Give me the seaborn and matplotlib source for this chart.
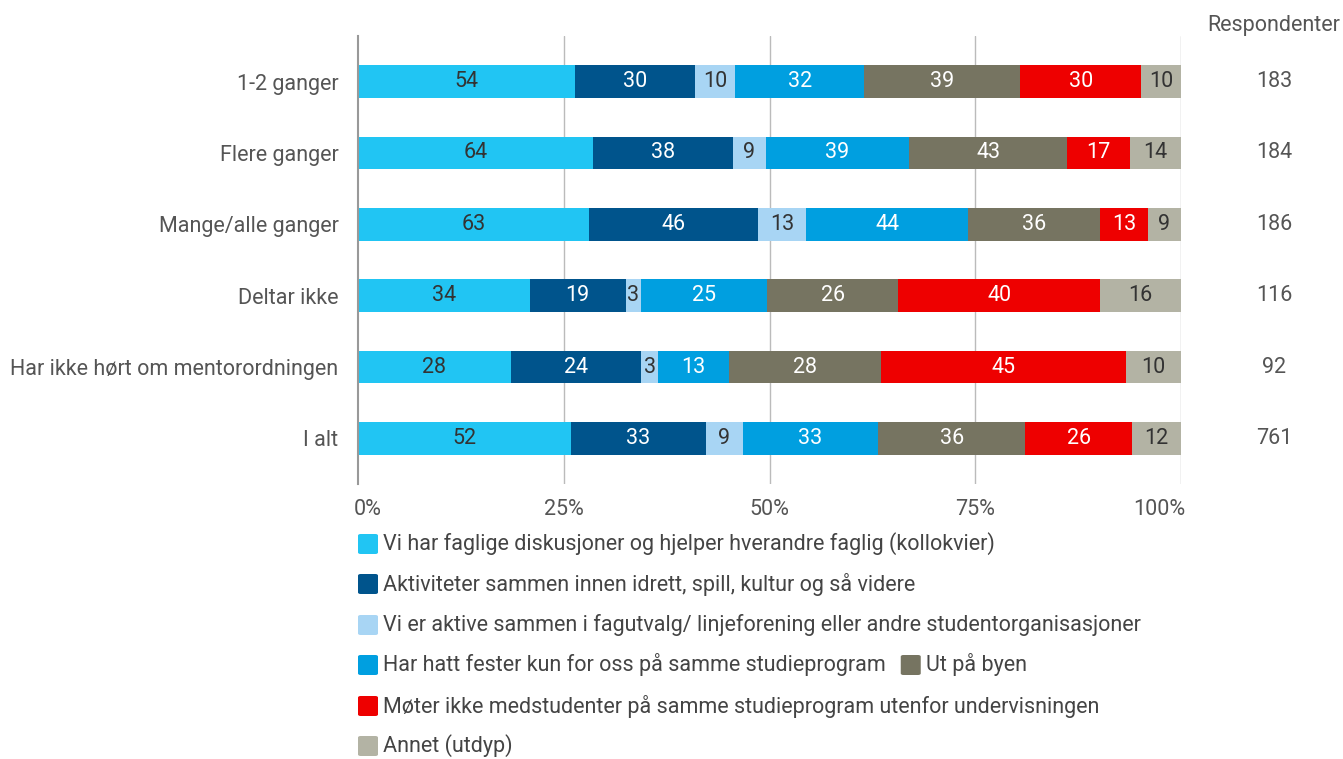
import matplotlib
matplotlib.use("Agg")
import matplotlib.pyplot as plt
import matplotlib.transforms as mtransforms
import seaborn as sns
import numpy as np
import pandas as pd
from matplotlib.patches import FancyBboxPatch

categories = ["1-2 ganger", "Flere ganger", "Mange/alle ganger", "Deltar ikke",
              "Har ikke hørt om mentorordningen", "I alt"]
series_names = [
    "Vi har faglige diskusjoner og hjelper hverandre faglig (kollokvier)",
    "Aktiviteter sammen innen idrett, spill, kultur og så videre",
    "Vi er aktive sammen i fagutvalg/ linjeforening eller andre studentorganisasjoner",
    "Har hatt fester kun for oss på samme studieprogram",
    "Ut på byen",
    "Møter ikke medstudenter på samme studieprogram utenfor undervisningen",
    "Annet (utdyp)",
]
kollokvier = [54, 64, 63, 34, 28, 52]
aktiviteter = [30, 38, 46, 19, 24, 33]
fagutvalg = [10, 9, 13, 3, 3, 9]
fester = [32, 39, 44, 25, 13, 33]
byen = [39, 43, 36, 26, 28, 36]
moter_ikke = [30, 17, 13, 40, 45, 26]
annet = [10, 14, 9, 16, 10, 12]
respondenter = [183, 184, 186, 116, 92, 761]
x_ticks = [0, 25, 50, 75, 100]
x_ticklabels = ["0%", "25%", "50%", "75%", "100%"]

colors = ["#21C5F3", "#00548C", "#A8D5F4", "#009FE0", "#767461", "#EE0000", "#B3B3A4"]
text_colors = ["#333333", "white", "#333333", "white", "white", "white", "#333333"]

sns.set_theme(style="white")
plt.rcParams["font.family"] = ["Roboto", "DejaVu Sans"]

values = np.array([kollokvier, aktiviteter, fagutvalg, fester, byen, moter_ikke, annet], dtype=float)
pct = values / values.sum(axis=0) * 100
cum = np.cumsum(pct, axis=0)

W, H = 1343, 759
fig = plt.figure(figsize=(W / 100, H / 100), dpi=100)
ax = fig.add_axes([358/W, 1 - 484/H, (1181-358)/W, (484-36)/H])

for i in range(len(series_names) - 1, -1, -1):
    df = pd.DataFrame({"cat": categories, "val": cum[i]})
    sns.barplot(data=df, x="val", y="cat", orient="h", color=colors[i],
                width=0.46, linewidth=0, saturation=1, ax=ax, zorder=3)

fs = 15.5
for i in range(len(series_names)):
    for j in range(len(categories)):
        left = cum[i, j] - pct[i, j]
        ax.text(left + pct[i, j] / 2, j, f"{int(values[i, j])}", ha="center", va="center",
                color=text_colors[i], fontsize=fs, zorder=5)

ax.set_xlim(0, 100)
ax.set_ylim(5.64, -0.64)
ax.set_xticks(x_ticks)
ax.set_xticklabels(x_ticklabels, fontsize=fs, color="#555555")
ax.tick_params(axis="x", length=0, pad=11)
ax.tick_params(axis="y", length=0, pad=14, labelsize=fs, labelcolor="#555555")
xl = ax.get_xticklabels()
xl[0].set_ha("left")
xl[0].set_transform(xl[0].get_transform() + mtransforms.ScaledTranslation(-4/100, 0, fig.dpi_scale_trans))
xl[-1].set_ha("right")
xl[-1].set_transform(xl[-1].get_transform() + mtransforms.ScaledTranslation(4/100, 0, fig.dpi_scale_trans))
ax.set_xlabel("")
ax.set_ylabel("")
for s in ["top", "right", "bottom"]:
    ax.spines[s].set_visible(False)
ax.spines["left"].set_color("#999999")
ax.spines["left"].set_linewidth(1.5)
ax.spines["left"].set_zorder(6)
for xt in x_ticks[1:]:
    ax.axvline(xt, color="#BBBBBB", linewidth=1, zorder=1)

# Respondenter column
fig.text(1274/W, 1 - 25/H, "Respondenter", ha="center", va="center",
         fontsize=fs, color="#555555")
for j, r in enumerate(respondenter):
    y_disp = ax.transData.transform((0, j))[1]
    fig.text(1274/W, y_disp / H, str(r), ha="center", va="center",
             fontsize=fs, color="#555555")

# Legend (flowing layout)
legend_rows = [[0], [1], [2], [3, 4], [5], [6]]
row_y = [544, 584, 625, 665, 706, 746]
renderer = fig.canvas.get_renderer()
sq = 20
for row, yy in zip(legend_rows, row_y):
    xx = 358
    for idx in row:
        patch = FancyBboxPatch((xx / W, 1 - (yy + sq / 2) / H), sq / W, sq / H,
                               boxstyle="round,pad=0,rounding_size=0.002",
                               transform=fig.transFigure, facecolor=colors[idx],
                               edgecolor="none")
        fig.patches.append(patch)
        t = fig.text((xx + 25) / W, 1 - yy / H, series_names[idx], ha="left", va="center",
                     fontsize=fs, color="#444444")
        bb = t.get_window_extent(renderer=renderer)
        xx = bb.x1 + 15

fig.savefig("out.png", dpi=100)
